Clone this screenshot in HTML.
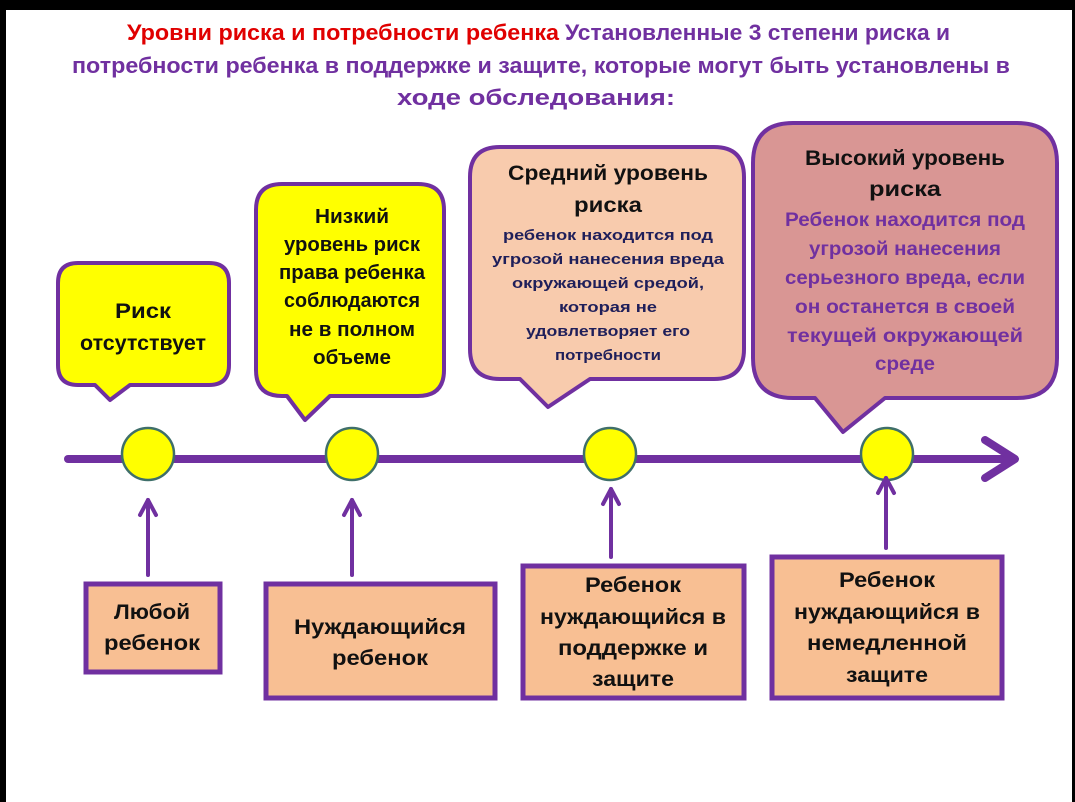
<!DOCTYPE html>
<html><head><meta charset="utf-8"><style>
html,body{margin:0;padding:0;background:#000;}
svg{display:block;}
text{font-family:"Liberation Sans","DejaVu Sans",sans-serif;font-weight:bold;}
</style></head><body>
<svg width="1075" height="802" viewBox="0 0 1075 802" xmlns="http://www.w3.org/2000/svg">
<rect x="6" y="10" width="1066" height="792" fill="#fff"/>
<!-- title -->
<text x="127" y="40" font-size="22" fill="#e00000" textLength="432" lengthAdjust="spacingAndGlyphs">Уровни риска и потребности ребенка</text>
<text x="565" y="40" font-size="22" fill="#7030a0" textLength="385" lengthAdjust="spacingAndGlyphs">Установленные 3 степени риска и</text>
<text x="72" y="73" font-size="22" fill="#7030a0" textLength="938" lengthAdjust="spacingAndGlyphs">потребности ребенка в поддержке и защите, которые могут быть установлены в</text>
<text x="397" y="105" font-size="22" fill="#7030a0" textLength="278" lengthAdjust="spacingAndGlyphs">ходе обследования:</text>

<!-- timeline -->
<line x1="68" y1="459" x2="1012" y2="459" stroke="#7030a0" stroke-width="8" stroke-linecap="round"/>
<polyline points="985,440 1015,459 985,478" fill="none" stroke="#7030a0" stroke-width="8" stroke-linecap="round" stroke-linejoin="round"/>

<!-- bubbles -->
<g stroke="#7030a0" stroke-width="4" stroke-linejoin="round">
<path d="M78,263 H209 Q229,263 229,283 V365 Q229,385 209,385 H130 L110,400 L95,385 H78 Q58,385 58,365 V283 Q58,263 78,263 Z" fill="#ffff00"/>
<path d="M282,184 H418 Q444,184 444,210 V370 Q444,396 418,396 H330 L305,420 L287,396 H282 Q256,396 256,370 V210 Q256,184 282,184 Z" fill="#ffff00"/>
<path d="M500,147 H714 Q744,147 744,177 V349 Q744,379 714,379 H590 L548,407 L520,379 H500 Q470,379 470,349 V177 Q470,147 500,147 Z" fill="#f8cbad"/>
<path d="M793,123 H1017 Q1057,123 1057,163 V358 Q1057,398 1017,398 H885 L843,432 L815,398 H793 Q753,398 753,358 V163 Q753,123 793,123 Z" fill="#d99694"/>
</g>
<g text-anchor="middle" fill="#111">
<text x="143" y="318" font-size="21" textLength="56" lengthAdjust="spacingAndGlyphs">Риск</text>
<text x="143" y="350" font-size="21" textLength="126" lengthAdjust="spacingAndGlyphs">отсутствует</text>
<g font-size="20">
<text x="352" y="223" textLength="74" lengthAdjust="spacingAndGlyphs">Низкий</text>
<text x="352" y="251" textLength="136" lengthAdjust="spacingAndGlyphs">уровень риск</text>
<text x="352" y="279" textLength="146" lengthAdjust="spacingAndGlyphs">права ребенка</text>
<text x="352" y="307" textLength="136" lengthAdjust="spacingAndGlyphs">соблюдаются</text>
<text x="352" y="336" textLength="126" lengthAdjust="spacingAndGlyphs">не в полном</text>
<text x="352" y="364" textLength="78" lengthAdjust="spacingAndGlyphs">объеме</text>
</g>
<text x="608" y="180" font-size="21" textLength="200" lengthAdjust="spacingAndGlyphs">Средний уровень</text>
<text x="608" y="212" font-size="21" textLength="68" lengthAdjust="spacingAndGlyphs">риска</text>
<g font-size="15" fill="#1f1f5a">
<text x="608" y="240" textLength="210" lengthAdjust="spacingAndGlyphs">ребенок находится под</text>
<text x="608" y="264" textLength="232" lengthAdjust="spacingAndGlyphs">угрозой нанесения вреда</text>
<text x="608" y="288" textLength="192" lengthAdjust="spacingAndGlyphs">окружающей средой,</text>
<text x="608" y="312" textLength="98" lengthAdjust="spacingAndGlyphs">которая не</text>
<text x="608" y="336" textLength="164" lengthAdjust="spacingAndGlyphs">удовлетворяет его</text>
<text x="608" y="360" textLength="106" lengthAdjust="spacingAndGlyphs">потребности</text>
</g>
<text x="905" y="165" font-size="21" textLength="200" lengthAdjust="spacingAndGlyphs">Высокий уровень</text>
<text x="905" y="196" font-size="21" textLength="72" lengthAdjust="spacingAndGlyphs">риска</text>
<g font-size="19" fill="#7030a0">
<text x="905" y="226" textLength="240" lengthAdjust="spacingAndGlyphs">Ребенок находится под</text>
<text x="905" y="255" textLength="192" lengthAdjust="spacingAndGlyphs">угрозой нанесения</text>
<text x="905" y="284" textLength="240" lengthAdjust="spacingAndGlyphs">серьезного вреда, если</text>
<text x="905" y="313" textLength="220" lengthAdjust="spacingAndGlyphs">он останется в своей</text>
<text x="905" y="342" textLength="236" lengthAdjust="spacingAndGlyphs">текущей окружающей</text>
<text x="905" y="370" textLength="60" lengthAdjust="spacingAndGlyphs">среде</text>
</g>
</g>

<!-- circles -->
<g fill="#ffff00" stroke="#3f6f6a" stroke-width="2.5">
<circle cx="148" cy="454" r="26"/>
<circle cx="352" cy="454" r="26"/>
<circle cx="610" cy="454" r="26"/>
<circle cx="887" cy="454" r="26"/>
</g>

<!-- up arrows -->
<g stroke="#7030a0" stroke-width="4" fill="none" stroke-linecap="round" stroke-linejoin="round">
<line x1="148" y1="575" x2="148" y2="500"/><polyline points="140,515 148,500 156,515"/>
<line x1="352" y1="575" x2="352" y2="500"/><polyline points="344,515 352,500 360,515"/>
<line x1="611" y1="557" x2="611" y2="489"/><polyline points="603,504 611,489 619,504"/>
<line x1="886" y1="548" x2="886" y2="478"/><polyline points="878,493 886,478 894,493"/>
</g>

<!-- bottom boxes -->
<g fill="#f8bf93" stroke="#7030a0" stroke-width="5">
<rect x="86" y="584" width="134" height="88"/>
<rect x="266" y="584" width="229" height="114"/>
<rect x="523" y="566" width="221" height="132"/>
<rect x="772" y="557" width="230" height="141"/>
</g>
<g text-anchor="middle" fill="#111" font-size="21">
<text x="152" y="619" textLength="76" lengthAdjust="spacingAndGlyphs">Любой</text>
<text x="152" y="650" textLength="96" lengthAdjust="spacingAndGlyphs">ребенок</text>
<text x="380" y="634" textLength="172" lengthAdjust="spacingAndGlyphs">Нуждающийся</text>
<text x="380" y="665" textLength="96" lengthAdjust="spacingAndGlyphs">ребенок</text>
<text x="633" y="592" textLength="96" lengthAdjust="spacingAndGlyphs">Ребенок</text>
<text x="633" y="624" textLength="186" lengthAdjust="spacingAndGlyphs">нуждающийся в</text>
<text x="633" y="655" textLength="150" lengthAdjust="spacingAndGlyphs">поддержке и</text>
<text x="633" y="686" textLength="82" lengthAdjust="spacingAndGlyphs">защите</text>
<text x="887" y="587" textLength="96" lengthAdjust="spacingAndGlyphs">Ребенок</text>
<text x="887" y="619" textLength="186" lengthAdjust="spacingAndGlyphs">нуждающийся в</text>
<text x="887" y="650" textLength="160" lengthAdjust="spacingAndGlyphs">немедленной</text>
<text x="887" y="682" textLength="82" lengthAdjust="spacingAndGlyphs">защите</text>
</g>
</svg>
</body></html>
